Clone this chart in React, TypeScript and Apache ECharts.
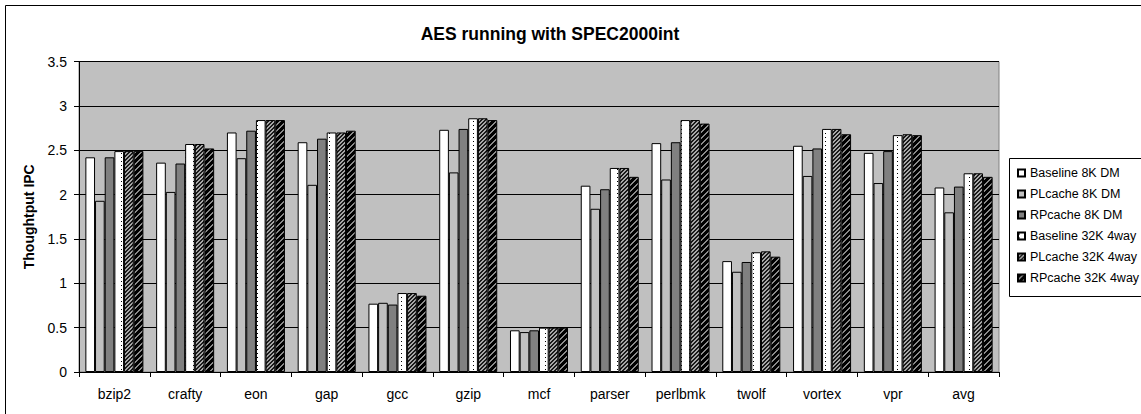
import React, { useEffect, useRef } from "react";
import * as echarts from "echarts";

// Benchmarks on the x axis
const categories = [
  "bzip2", "crafty", "eon", "gap", "gcc", "gzip", "mcf",
  "parser", "perlbmk", "twolf", "vortex", "vpr", "avg",
];

// Throughput IPC per configuration
const baseline8K = [2.42, 2.36, 2.70, 2.59, 0.77, 2.73, 0.47, 2.10, 2.58, 1.25, 2.55, 2.47, 2.08];
const plcache8K = [1.93, 2.03, 2.41, 2.11, 0.78, 2.25, 0.45, 1.84, 2.17, 1.13, 2.21, 2.13, 1.80];
const rpcache8K = [2.42, 2.35, 2.72, 2.63, 0.76, 2.74, 0.47, 2.06, 2.59, 1.24, 2.52, 2.49, 2.09];
const baseline32K = [2.49, 2.57, 2.84, 2.70, 0.89, 2.86, 0.50, 2.30, 2.84, 1.35, 2.74, 2.67, 2.24];
const plcache32K = [2.49, 2.57, 2.84, 2.70, 0.89, 2.86, 0.50, 2.30, 2.84, 1.36, 2.74, 2.68, 2.24];
const rpcache32K = [2.49, 2.52, 2.84, 2.72, 0.86, 2.84, 0.50, 2.20, 2.80, 1.30, 2.68, 2.67, 2.20];

const seriesNames = [
  "Baseline 8K DM",
  "PLcache 8K DM",
  "RPcache 8K DM",
  "Baseline 32K 4way",
  "PLcache 32K 4way",
  "RPcache 32K 4way",
];

const yTicks = { min: 0, max: 3.5, interval: 0.5 };

const FONT = "'Liberation Sans', Arial, sans-serif";

// Small pixel tiles used as repeating bar fills
function tile(size: number, pick: (x: number, y: number) => string) {
  const c = document.createElement("canvas");
  c.width = size;
  c.height = size;
  const ctx = c.getContext("2d")!;
  for (let y = 0; y < size; y++) {
    for (let x = 0; x < size; x++) {
      ctx.fillStyle = pick(x, y);
      ctx.fillRect(x, y, 1, 1);
    }
  }
  return c;
}

function dotted() {
  const c = document.createElement("canvas");
  c.width = 8;
  c.height = 4;
  const ctx = c.getContext("2d")!;
  ctx.fillStyle = "#ffffff";
  ctx.fillRect(0, 0, 8, 4);
  ctx.fillStyle = "#000000";
  ctx.fillRect(1, 1, 1, 1);
  return c;
}

export default function App() {
  const ref = useRef<HTMLDivElement>(null);

  useEffect(() => {
    if (!ref.current) return;
    const chart = echarts.init(ref.current, null, { renderer: "svg" });

    const dots = dotted();
    const fineHatch = tile(4, (x, y) => ((x + y) % 4 < 2 ? "#1a1a1a" : "#a8a8a8"));
    const wideHatch = tile(6, (x, y) => ((x + y) % 6 < 4 ? "#000000" : "#8a8a8a"));

    const fills: any[] = [
      "#ffffff",
      "#c0c0c0",
      "#808080",
      { image: dots, repeat: "repeat" },
      { image: fineHatch, repeat: "repeat" },
      { image: wideHatch, repeat: "repeat" },
    ];
    const values = [baseline8K, plcache8K, rpcache8K, baseline32K, plcache32K, rpcache32K];

    chart.setOption({
      animation: false,
      backgroundColor: "#ffffff",
      graphic: [
        {
          type: "rect",
          shape: { x: 5.5, y: 5.5, width: 1200, height: 500 },
          style: { fill: "none", stroke: "#000", lineWidth: 1 },
          silent: true,
        },
        {
          type: "text",
          x: 550,
          y: 34,
          style: {
            text: "AES running with SPEC2000int",
            fontFamily: FONT,
            fontSize: 17.5,
            fontWeight: "bold",
            fill: "#000",
            align: "center",
            verticalAlign: "middle",
          },
          silent: true,
        },
        {
          type: "rect",
          shape: { x: 1009.5, y: 158.5, width: 200, height: 138 },
          style: { fill: "#ffffff", stroke: "#000", lineWidth: 1 },
          silent: true,
          z: -1,
        },
      ],
      legend: {
        orient: "vertical",
        left: 1012,
        top: 161,
        itemWidth: 7,
        itemHeight: 7,
        itemGap: 7,
        icon: "rect",
        data: seriesNames,
        textStyle: { fontFamily: FONT, fontSize: 12.5, color: "#000", lineHeight: 14 },
        selectedMode: false,
      },
      grid: {
        left: 79,
        right: 142,
        top: 61.5,
        bottom: 42,
        show: true,
        backgroundColor: "#c0c0c0",
        borderColor: "#808080",
        borderWidth: 1,
      },
      xAxis: {
        type: "category",
        data: categories,
        axisLine: { lineStyle: { color: "#000", width: 1 } },
        axisTick: { show: true, length: 5, lineStyle: { color: "#000" } },
        axisLabel: { fontFamily: FONT, fontSize: 14, color: "#000", margin: 15 },
      },
      yAxis: {
        type: "value",
        min: yTicks.min,
        max: yTicks.max,
        interval: yTicks.interval,
        name: "Thoughtput IPC",
        nameLocation: "middle",
        nameRotate: 90,
        nameGap: 43,
        nameTextStyle: { fontFamily: FONT, fontSize: 14, fontWeight: "bold", color: "#000" },
        axisLine: { show: true, lineStyle: { color: "#000", width: 1 } },
        axisTick: { show: true, length: 5, lineStyle: { color: "#000" } },
        axisLabel: { fontFamily: FONT, fontSize: 14, color: "#000", margin: 12 },
        splitLine: { show: true, lineStyle: { color: "#000", width: 1 } },
      },
      series: seriesNames.map((name, i) => ({
        name,
        type: "bar",
        data: values[i],
        barGap: "0%",
        barCategoryGap: "18%",
        itemStyle: { color: fills[i], borderColor: "#000", borderWidth: 1 },
        emphasis: { disabled: true },
      })),
    });

    return () => chart.dispose();
  }, []);

  return (
    <div
      ref={ref}
      style={{ position: "fixed", left: 0, top: 0, width: 1141, height: 414 }}
    />
  );
}
